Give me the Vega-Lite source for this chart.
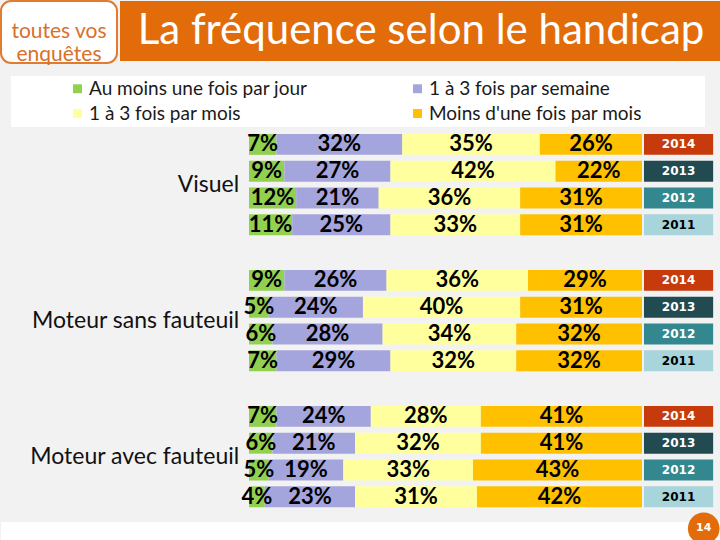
{
  "$schema": "https://vega.github.io/schema/vega-lite/v6.json",
  "background": "#F2F2F2",
  "padding": 0,
  "config": {"view": {"stroke": null}, "font": "Lato"},
  "spacing": 1,
  "vconcat": [
    {
      "spacing": 65,
      "vconcat": [
        {
          "spacing": 2,
          "hconcat": [
            {
              "width": 116,
              "height": 62,
              "view": {"fill": "white", "stroke": "#E07B30", "strokeWidth": 2, "cornerRadius": 10},
              "data": {"values": [{"logo": "toutes vos\nenquêtes"}]},
              "mark": {"type": "text", "font": "Lato", "fontSize": 21, "color": "#D9702A", "lineBreak": "\n", "lineHeight": 23, "baseline": "middle", "align": "center"},
              "encoding": {"text": {"field": "logo"}}
            },
            {
              "width": 602,
              "height": 60,
              "view": {"fill": "#E36C0A"},
              "data": {"values": [{"title": "La fréquence selon le handicap"}]},
              "mark": {"type": "text", "font": "Lato", "fontSize": 42, "color": "white", "baseline": "middle", "align": "center"},
              "encoding": {"text": {"field": "title"}}
            }
          ]
        },
        {
          "data": {"values": [
            {"group": "Visuel", "year": 2014, "freq": "Au moins une fois par jour", "value": 7},
            {"group": "Visuel", "year": 2014, "freq": "1 à 3 fois par semaine", "value": 32},
            {"group": "Visuel", "year": 2014, "freq": "1 à 3 fois par mois", "value": 35},
            {"group": "Visuel", "year": 2014, "freq": "Moins d'une fois par mois", "value": 26},
            {"group": "Visuel", "year": 2013, "freq": "Au moins une fois par jour", "value": 9},
            {"group": "Visuel", "year": 2013, "freq": "1 à 3 fois par semaine", "value": 27},
            {"group": "Visuel", "year": 2013, "freq": "1 à 3 fois par mois", "value": 42},
            {"group": "Visuel", "year": 2013, "freq": "Moins d'une fois par mois", "value": 22},
            {"group": "Visuel", "year": 2012, "freq": "Au moins une fois par jour", "value": 12},
            {"group": "Visuel", "year": 2012, "freq": "1 à 3 fois par semaine", "value": 21},
            {"group": "Visuel", "year": 2012, "freq": "1 à 3 fois par mois", "value": 36},
            {"group": "Visuel", "year": 2012, "freq": "Moins d'une fois par mois", "value": 31},
            {"group": "Visuel", "year": 2011, "freq": "Au moins une fois par jour", "value": 11},
            {"group": "Visuel", "year": 2011, "freq": "1 à 3 fois par semaine", "value": 25},
            {"group": "Visuel", "year": 2011, "freq": "1 à 3 fois par mois", "value": 33},
            {"group": "Visuel", "year": 2011, "freq": "Moins d'une fois par mois", "value": 31},
            {"group": "Moteur sans fauteuil", "year": 2014, "freq": "Au moins une fois par jour", "value": 9},
            {"group": "Moteur sans fauteuil", "year": 2014, "freq": "1 à 3 fois par semaine", "value": 26},
            {"group": "Moteur sans fauteuil", "year": 2014, "freq": "1 à 3 fois par mois", "value": 36},
            {"group": "Moteur sans fauteuil", "year": 2014, "freq": "Moins d'une fois par mois", "value": 29},
            {"group": "Moteur sans fauteuil", "year": 2013, "freq": "Au moins une fois par jour", "value": 5},
            {"group": "Moteur sans fauteuil", "year": 2013, "freq": "1 à 3 fois par semaine", "value": 24},
            {"group": "Moteur sans fauteuil", "year": 2013, "freq": "1 à 3 fois par mois", "value": 40},
            {"group": "Moteur sans fauteuil", "year": 2013, "freq": "Moins d'une fois par mois", "value": 31},
            {"group": "Moteur sans fauteuil", "year": 2012, "freq": "Au moins une fois par jour", "value": 6},
            {"group": "Moteur sans fauteuil", "year": 2012, "freq": "1 à 3 fois par semaine", "value": 28},
            {"group": "Moteur sans fauteuil", "year": 2012, "freq": "1 à 3 fois par mois", "value": 34},
            {"group": "Moteur sans fauteuil", "year": 2012, "freq": "Moins d'une fois par mois", "value": 32},
            {"group": "Moteur sans fauteuil", "year": 2011, "freq": "Au moins une fois par jour", "value": 7},
            {"group": "Moteur sans fauteuil", "year": 2011, "freq": "1 à 3 fois par semaine", "value": 29},
            {"group": "Moteur sans fauteuil", "year": 2011, "freq": "1 à 3 fois par mois", "value": 32},
            {"group": "Moteur sans fauteuil", "year": 2011, "freq": "Moins d'une fois par mois", "value": 32},
            {"group": "Moteur avec fauteuil", "year": 2014, "freq": "Au moins une fois par jour", "value": 7},
            {"group": "Moteur avec fauteuil", "year": 2014, "freq": "1 à 3 fois par semaine", "value": 24},
            {"group": "Moteur avec fauteuil", "year": 2014, "freq": "1 à 3 fois par mois", "value": 28},
            {"group": "Moteur avec fauteuil", "year": 2014, "freq": "Moins d'une fois par mois", "value": 41},
            {"group": "Moteur avec fauteuil", "year": 2013, "freq": "Au moins une fois par jour", "value": 6},
            {"group": "Moteur avec fauteuil", "year": 2013, "freq": "1 à 3 fois par semaine", "value": 21},
            {"group": "Moteur avec fauteuil", "year": 2013, "freq": "1 à 3 fois par mois", "value": 32},
            {"group": "Moteur avec fauteuil", "year": 2013, "freq": "Moins d'une fois par mois", "value": 41},
            {"group": "Moteur avec fauteuil", "year": 2012, "freq": "Au moins une fois par jour", "value": 5},
            {"group": "Moteur avec fauteuil", "year": 2012, "freq": "1 à 3 fois par semaine", "value": 19},
            {"group": "Moteur avec fauteuil", "year": 2012, "freq": "1 à 3 fois par mois", "value": 33},
            {"group": "Moteur avec fauteuil", "year": 2012, "freq": "Moins d'une fois par mois", "value": 43},
            {"group": "Moteur avec fauteuil", "year": 2011, "freq": "Au moins une fois par jour", "value": 4},
            {"group": "Moteur avec fauteuil", "year": 2011, "freq": "1 à 3 fois par semaine", "value": 23},
            {"group": "Moteur avec fauteuil", "year": 2011, "freq": "1 à 3 fois par mois", "value": 31},
            {"group": "Moteur avec fauteuil", "year": 2011, "freq": "Moins d'une fois par mois", "value": 42}
          ]},
          "transform": [
            {"calculate": "indexof(['Au moins une fois par jour', '1 à 3 fois par semaine', '1 à 3 fois par mois', 'Moins d\\'une fois par mois'], datum.freq)", "as": "order"},
            {"stack": "value", "groupby": ["group", "year"], "sort": [{"field": "order", "order": "ascending"}], "as": ["x0", "x1"]},
            {"calculate": "(datum.x0 + datum.x1) / 2", "as": "mid"},
            {"calculate": "datum.value + '%'", "as": "label"}
          ],
          "facet": {
            "row": {"field": "group", "type": "nominal", "sort": ["Visuel", "Moteur sans fauteuil", "Moteur avec fauteuil"], "header": null}
          },
          "spacing": {"row": 28},
          "spec": {
            "width": 720,
            "height": 107.2,
            "layer": [
              {
                "mark": {"type": "bar", "cornerRadius": 0},
                "encoding": {
                  "x": {"field": "x0", "type": "quantitative", "scale": {"domain": [-63.1, 120.1], "nice": false, "zero": false}, "axis": null},
                  "x2": {"field": "x1"},
                  "y": {"field": "year", "type": "ordinal", "sort": "descending", "scale": {"paddingInner": 0.22, "paddingOuter": 0.11}, "axis": null},
                  "color": {
                    "field": "freq", "type": "nominal",
                    "scale": {"domain": ["Au moins une fois par jour", "1 à 3 fois par mois", "1 à 3 fois par semaine", "Moins d'une fois par mois"], "range": ["#92D050", "#FFFF9E", "#A5A5DD", "#FFC000"]},
                    "legend": {
                      "orient": "none", "legendX": 10, "legendY": 75, "title": " ", "titleOrient": "right", "titlePadding": 60, "columns": 2,
                      "symbolType": "square", "symbolSize": 80, "symbolOffset": 54, "symbolStrokeWidth": 0,
                      "labelFont": "Lato", "labelFontSize": 19, "labelColor": "#1a1a1a", "labelLimit": 400, "labelOffset": 2,
                      "fillColor": "white", "padding": 3, "rowPadding": 5, "columnPadding": 46, "gridAlign": "all"
                    }
                  }
                }
              },
              {
                "mark": {"type": "text", "font": "Lato", "fontWeight": "bold", "fontSize": 22, "color": "black", "baseline": "middle", "align": "center"},
                "encoding": {
                  "x": {"field": "mid", "type": "quantitative"},
                  "y": {"field": "year", "type": "ordinal", "sort": "descending"},
                  "text": {"field": "label"}
                }
              },
              {
                "transform": [{"filter": "datum.order == 0"}],
                "mark": {"type": "rect"},
                "encoding": {
                  "x": {"datum": 100.5, "type": "quantitative"},
                  "x2": {"datum": 118.1},
                  "y": {"field": "year", "type": "ordinal", "sort": "descending"},
                  "fill": {"field": "year", "type": "ordinal", "scale": {"domain": [2014, 2013, 2012, 2011], "range": ["#C63A0B", "#214A51", "#338890", "#A7D5DB"]}, "legend": null}
                }
              },
              {
                "transform": [{"filter": "datum.order == 0"}],
                "mark": {"type": "text", "font": "DejaVu Sans", "fontWeight": "bold", "fontSize": 12, "baseline": "middle", "align": "center"},
                "encoding": {
                  "x": {"datum": 109.3, "type": "quantitative"},
                  "y": {"field": "year", "type": "ordinal", "sort": "descending"},
                  "text": {"field": "year"},
                  "color": {"condition": {"test": "datum.year == 2011", "value": "black"}, "value": "white"}
                }
              },
              {
                "transform": [{"filter": "datum.order == 0 && datum.year == 2014"}],
                "mark": {"type": "text", "font": "Lato", "fontSize": 23, "color": "#111111", "baseline": "middle", "align": "right"},
                "encoding": {
                  "x": {"datum": -2.5, "type": "quantitative"},
                  "text": {"field": "group"}
                }
              }
            ]
          }
        }
      ]
    },
    {
      "width": 720,
      "height": 32,
      "view": {"fill": "white"},
      "data": {"values": [{"page": "14"}]},
      "layer": [
        {
          "mark": {"type": "point", "filled": true, "shape": "circle", "size": 1000, "color": "#E36C0A", "opacity": 1},
          "encoding": {
            "x": {"datum": 0.976, "type": "quantitative", "scale": {"domain": [0, 1], "nice": false}, "axis": null},
            "y": {"datum": 0.8, "type": "quantitative", "scale": {"domain": [0, 1], "nice": false}, "axis": null}
          }
        },
        {
          "mark": {"type": "text", "font": "DejaVu Sans", "fontWeight": "bold", "fontSize": 11, "color": "white", "baseline": "middle", "align": "center"},
          "encoding": {
            "x": {"datum": 0.976, "type": "quantitative"},
            "y": {"datum": 0.8, "type": "quantitative"},
            "text": {"field": "page"}
          }
        }
      ]
    }
  ]
}
